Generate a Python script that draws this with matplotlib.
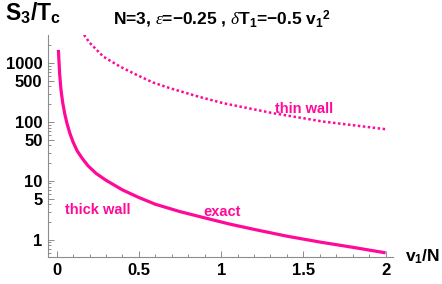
import numpy as np
import matplotlib
matplotlib.use('Agg')
import matplotlib.pyplot as plt
from matplotlib.ticker import FixedLocator, NullFormatter

plt.rcParams['font.family'] = ['Liberation Sans', 'DejaVu Sans']
plt.rcParams['mathtext.fontset'] = 'custom'
plt.rcParams['mathtext.rm'] = 'Liberation Sans:bold'
plt.rcParams['mathtext.bf'] = 'Liberation Sans:bold'
plt.rcParams['mathtext.it'] = 'Liberation Serif:italic'

pink = '#ff0a98'

# exact (thick wall regime) curve
exact_x = [0.01, 0.018, 0.026, 0.036, 0.048, 0.062, 0.08, 0.1, 0.125, 0.155,
           0.19, 0.24, 0.3, 0.4, 0.5, 0.6, 0.75, 0.9, 1.05, 1.2, 1.4, 1.6,
           1.8, 2.0]
exact_y = [1660, 640, 348, 215, 140, 95, 64, 45, 32, 24,
           18, 13.3, 10.2, 7.0, 5.2, 4.0, 3.0, 2.35, 1.85, 1.5, 1.15, 0.915,
           0.745, 0.6]

# thin wall approximation
thin_x = [0.166, 0.2, 0.283, 0.385, 0.486, 0.587, 0.689, 0.861, 1.013, 1.317,
          1.621, 2.0]
thin_y = [2985, 2200, 1279, 865, 626, 463, 372, 268, 207, 140, 101, 75]

xticks = [0, 0.5, 1, 1.5, 2]
xticklabels = ['0', '0.5', '1', '1.5', '2']
yticks = [1, 5, 10, 50, 100, 500, 1000]
yticklabels = ['1', '5', '10', '50', '100', '500', '1000']

fig = plt.figure(figsize=(4.42, 2.84), dpi=100)
ax = fig.add_axes([48 / 442, 27 / 284, 345 / 442, 222 / 284])

ax.plot(exact_x, exact_y, color=pink, lw=2.3, solid_capstyle='butt',
        solid_joinstyle='round')
ax.plot(thin_x, thin_y, color=pink, lw=1.8, linestyle=(0, (1, 1)))

ax.set_yscale('log')
ax.set_xlim(-0.053, 2.045)
ax.set_ylim(0.51, 2970)

ax.set_xticks(xticks)
ax.set_xticklabels(xticklabels, fontweight='bold', fontsize=12)
ax.xaxis.set_minor_locator(FixedLocator([v / 10 for v in range(21) if v % 5]))
ax.yaxis.set_major_locator(FixedLocator(yticks))
ax.set_yticklabels(yticklabels, fontweight='bold', fontsize=12)
minor_y = [m * 10 ** k for k in range(-1, 4) for m in (2, 3, 4, 6, 7, 8, 9)]
ax.yaxis.set_minor_locator(FixedLocator(minor_y))
ax.yaxis.set_minor_formatter(NullFormatter())

for s in ['top', 'right']:
    ax.spines[s].set_visible(False)
for s in ['left', 'bottom']:
    ax.spines[s].set_color('#8c8c8c')
    ax.spines[s].set_linewidth(0.8)
ax.tick_params(which='both', direction='in', color='#8c8c8c', width=0.7)
ax.tick_params(which='major', length=4, pad=4)
ax.tick_params(which='minor', length=2)

ax.text(1.505, 166, 'thin wall', color=pink, fontweight='bold', fontsize=10.5,
        ha='center', va='center')
ax.text(0.05, 3.2, 'thick wall', color=pink, fontweight='bold', fontsize=10.5,
        ha='left', va='center')
ax.text(1.005, 3.0, 'exact', color=pink, fontweight='bold', fontsize=10.5,
        ha='center', va='center')

fig.text(5 / 442, 1 - 20 / 284, r'$\mathrm{S_3/T_c}$', fontsize=16.5)
fig.text(222 / 442, 1 - 25 / 284,
         r'N=3, $\epsilon$=$-$0.25 , $\delta$T$_1$=$-$0.5 v$_1$$^2$',
         fontsize=12.5, fontweight='bold', ha='center')
fig.text(405 / 442, 1 - 262 / 284, r'v$_1$/N', fontsize=12.5, fontweight='bold')

fig.savefig('out.png', dpi=100)
